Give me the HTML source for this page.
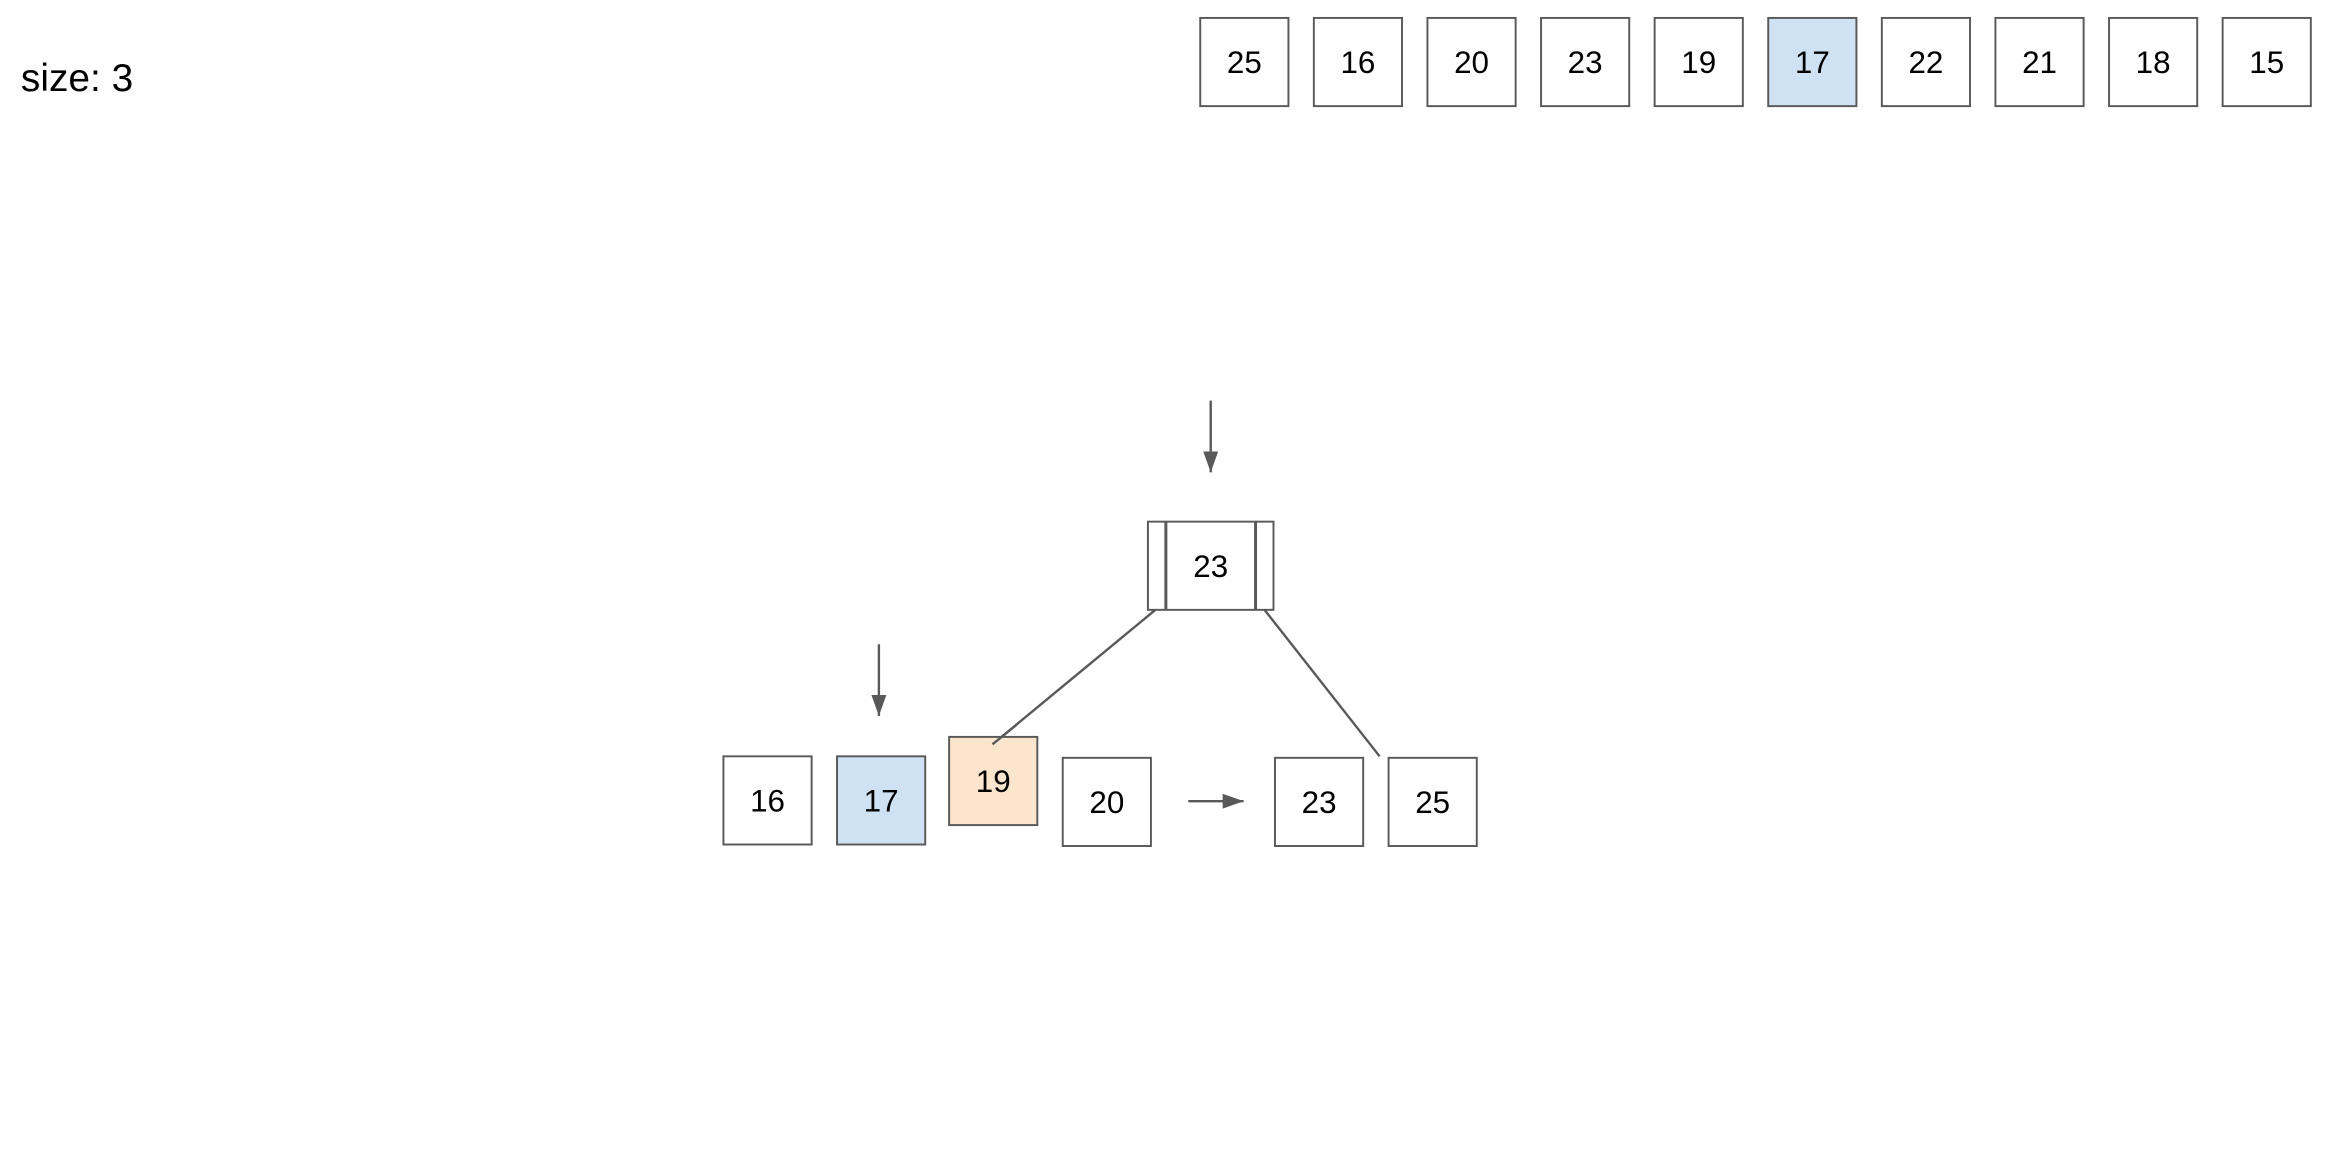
<!DOCTYPE html>
<html><head><meta charset="utf-8"><style>html,body{margin:0;padding:0;background:#fff;}svg{display:block;}</style></head>
<body>
<svg width="2344" height="1172" viewBox="0 0 1568.2 784.1" xmlns="http://www.w3.org/2000/svg" font-family="Liberation Sans, Arial, sans-serif">
<defs><marker id="ah" viewBox="0 0 14 10" refX="14" refY="5" markerWidth="14" markerHeight="10" orient="auto" markerUnits="userSpaceOnUse"><path d="M0,0 L14,5 L0,10 z" fill="#595959"/></marker></defs>
<text x="14" y="61" font-size="26" fill="#000">size: 3</text>
<g stroke="#595959" stroke-width="1.3" fill="#fff">
<rect x="803" y="12" width="59" height="59"/>
<rect x="879" y="12" width="59" height="59"/>
<rect x="955" y="12" width="59" height="59"/>
<rect x="1031" y="12" width="59" height="59"/>
<rect x="1107" y="12" width="59" height="59"/>
<rect x="1183" y="12" width="59" height="59" fill="#cfe2f3"/>
<rect x="1259" y="12" width="59" height="59"/>
<rect x="1335" y="12" width="59" height="59"/>
<rect x="1411" y="12" width="59" height="59"/>
<rect x="1487" y="12" width="59" height="59"/>
</g>
<g font-size="21" text-anchor="middle" fill="#000">
<text x="832.5" y="49">25</text><text x="908.5" y="49">16</text><text x="984.5" y="49">20</text><text x="1060.5" y="49">23</text><text x="1136.5" y="49">19</text><text x="1212.5" y="49">17</text><text x="1288.5" y="49">22</text><text x="1364.5" y="49">21</text><text x="1440.5" y="49">18</text><text x="1516.5" y="49">15</text>
</g>
<g stroke="#595959" stroke-width="1.6" fill="none">
<line x1="810" y1="268" x2="810" y2="316" marker-end="url(#ah)"/>
<line x1="588" y1="431" x2="588" y2="479" marker-end="url(#ah)"/>
<line x1="795" y1="536" x2="832" y2="536" marker-end="url(#ah)"/>
<line x1="773" y1="408" x2="664" y2="498"/>
<line x1="846" y1="408" x2="923" y2="506"/>
</g>
<g stroke="#595959" stroke-width="1.3" fill="#fff">
<rect x="768" y="349" width="84" height="59"/>
<line x1="780" y1="349" x2="780" y2="408" stroke-width="2"/>
<line x1="840" y1="349" x2="840" y2="408" stroke-width="2"/>
<rect x="484" y="506" width="59" height="59"/>
<rect x="560" y="506" width="59" height="59" fill="#cfe2f3"/>
<rect x="635" y="493" width="59" height="59" fill="#fce5cd"/>
<rect x="711" y="507" width="59" height="59"/>
<rect x="853" y="507" width="59" height="59"/>
<rect x="929" y="507" width="59" height="59"/>
</g>
<line x1="680" y1="485" x2="664" y2="498" stroke="#595959" stroke-width="1.6"/>
<g font-size="21" text-anchor="middle" fill="#000">
<text x="810" y="386">23</text>
<text x="513.5" y="543">16</text><text x="589.5" y="543">17</text><text x="664.5" y="530">19</text><text x="740.5" y="544">20</text><text x="882.5" y="544">23</text><text x="958.5" y="544">25</text>
</g>
</svg>
</body></html>
